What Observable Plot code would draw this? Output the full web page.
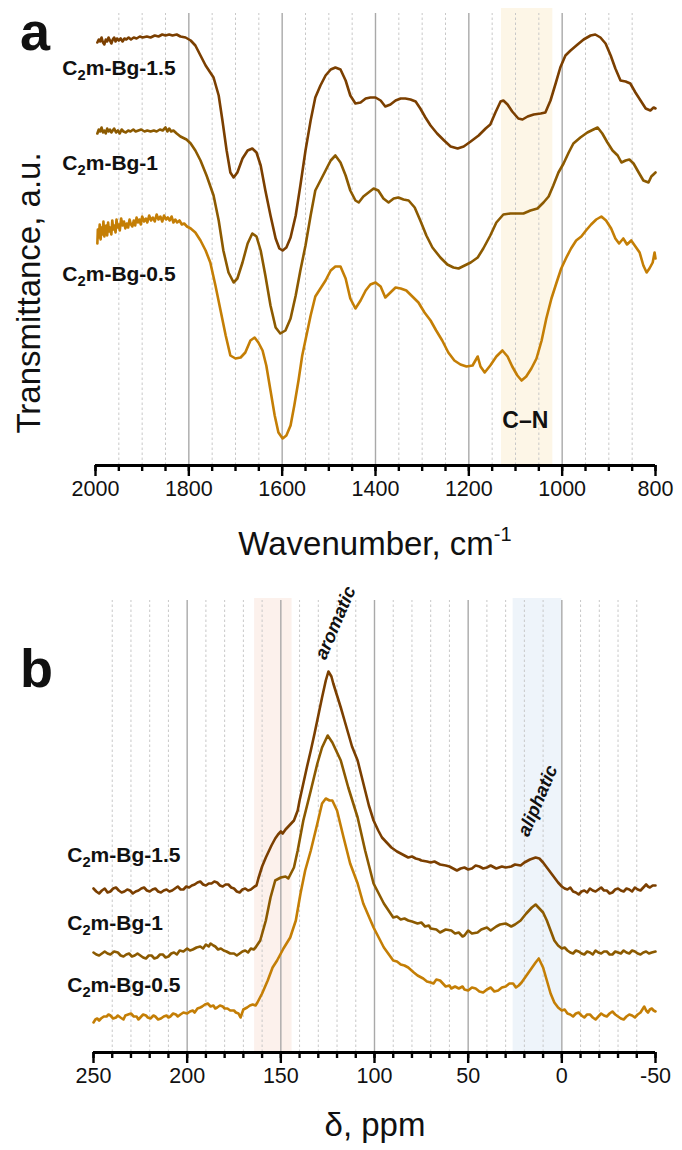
<!DOCTYPE html>
<html>
<head>
<meta charset="utf-8">
<script src="https://cdn.jsdelivr.net/npm/d3@7"></script>
<script src="https://cdn.jsdelivr.net/npm/@observablehq/plot@0.6"></script>
<style>
  html, body { margin: 0; padding: 0; background: #fff; }
  #fig { position: relative; width: 682px; height: 1150px; font-family: "Liberation Sans", Arial, sans-serif; color: #111; }
  #fig svg { display: block; }
  .ov { position: absolute; line-height: 1; white-space: nowrap; }
  .letter { font-weight: bold; font-size: 54px; left: 20px; }
  .title { font-size: 33px; }
  .title sup { font-size: 20px; vertical-align: 0; position: relative; top: -14px; }
</style>
</head>
<body>
<div id="fig">
  <div id="pa"></div>
  <div id="pb"></div>
  <div class="ov letter" style="top:4px">a</div>
  <div class="ov letter" style="top:641px">b</div>
  <div class="ov title" style="left:28px;top:293px;transform:translate(-50%,-50%) rotate(-90deg)">Transmittance, a.u.</div>
  <div class="ov title" style="left:375px;top:527px;transform:translateX(-50%)">Wavenumber, cm<sup>-1</sup></div>
  <div class="ov title" style="left:375px;top:1108px;transform:translateX(-50%)">δ, ppm</div>
</div>
<script>
// ---------- data ----------
const samples = ["C2m-Bg-1.5", "C2m-Bg-1", "C2m-Bg-0.5"];
const sampleColors = ["#7b3f00", "#8c5a00", "#c47e05"];

// FTIR: [wavenumber (cm-1), transmittance (a.u., offset)]
const ftir15 = [[1996,423],[1993,426],[1990,424],[1987,428],[1984,423],[1981,421],[1978,426],[1975,424],[1972,428],[1969,425],[1966,422],[1963,426],[1960,428],[1957,424],[1954,427],[1950,425],[1946,427],[1942,424],[1938,427],[1934,426],[1929,428],[1924,426],[1918,428],[1912,427],[1905,429],[1899,428],[1890,429],[1882,428],[1873,430],[1865,429],[1857,431],[1850,430],[1842,431],[1835,430],[1826,431],[1818,429],[1807,428],[1796,425],[1786,420],[1775,410],[1764,400],[1747,388],[1736,370],[1728,345],[1719,315],[1711,293],[1704,288],[1696,293],[1685,307],[1674,315],[1664,317],[1655,313],[1646,300],[1636,275],[1625,250],[1614,227],[1606,217],[1599,215],[1591,218],[1582,228],[1571,250],[1561,280],[1550,315],[1539,345],[1529,368],[1518,380],[1507,390],[1496,396],[1486,398],[1475,396],[1464,385],[1454,370],[1443,362],[1432,363],[1421,367],[1411,368],[1400,368],[1389,365],[1379,359],[1368,361],[1357,365],[1346,367],[1336,367],[1325,366],[1314,364],[1304,357],[1293,348],[1282,340],[1268,332],[1253,325],[1239,319],[1224,317],[1211,319],[1196,324],[1179,330],[1164,337],[1154,341],[1143,353],[1132,364],[1126,365],[1117,361],[1107,354],[1094,347],[1085,346],[1074,349],[1061,351],[1046,352],[1036,353],[1025,365],[1014,382],[1004,398],[993,410],[982,415],[967,421],[954,426],[939,430],[929,431],[918,428],[907,422],[896,410],[886,397],[875,385],[864,384],[854,382],[843,373],[832,365],[821,357],[811,355],[804,358],[800,357]];
const ftir10 = [[1996,332],[1993,336],[1990,334],[1987,338],[1984,333],[1981,335],[1978,332],[1975,337],[1972,334],[1969,336],[1966,333],[1963,335],[1960,337],[1956,333],[1952,335],[1948,332],[1944,336],[1940,334],[1935,333],[1930,335],[1925,334],[1919,336],[1914,334],[1908,335],[1902,336],[1895,334],[1889,335],[1882,334],[1875,335],[1869,334],[1862,336],[1856,335],[1850,338],[1846,334],[1842,337],[1838,334],[1833,335],[1826,332],[1818,329],[1805,326],[1796,322],[1786,315],[1775,305],[1762,290],[1747,270],[1736,245],[1726,215],[1715,193],[1704,183],[1696,187],[1685,203],[1674,222],[1664,232],[1655,229],[1646,215],[1636,190],[1625,160],[1614,138],[1604,132],[1593,135],[1582,147],[1571,170],[1561,195],[1550,220],[1539,250],[1529,275],[1518,285],[1507,295],[1496,305],[1486,310],[1475,303],[1464,290],[1454,275],[1443,265],[1436,263],[1426,269],[1415,273],[1404,277],[1394,275],[1383,267],[1372,263],[1361,267],[1351,268],[1340,266],[1329,265],[1316,258],[1304,245],[1291,230],[1278,218],[1261,208],[1246,201],[1233,198],[1222,197],[1209,200],[1196,203],[1181,208],[1169,217],[1154,230],[1141,243],[1126,251],[1111,252],[1096,252],[1083,252],[1068,255],[1053,257],[1040,263],[1029,269],[1019,280],[1008,293],[997,302],[986,313],[976,322],[961,328],[946,333],[933,336],[924,338],[914,332],[903,323],[892,315],[881,310],[873,303],[864,305],[856,306],[847,302],[836,293],[826,285],[815,283],[809,289],[800,293]];
const ftir05 = [[1996,222],[1995,236],[1993,228],[1991,241],[1989,226],[1987,238],[1985,231],[1983,244],[1981,229],[1979,236],[1977,240],[1975,230],[1973,243],[1971,234],[1969,238],[1966,231],[1964,245],[1962,236],[1960,240],[1957,233],[1955,246],[1953,238],[1950,241],[1948,235],[1945,247],[1942,240],[1939,244],[1936,237],[1933,242],[1930,238],[1927,246],[1924,241],[1921,239],[1918,245],[1915,240],[1912,248],[1909,243],[1906,246],[1903,241],[1900,249],[1896,244],[1892,247],[1889,243],[1885,250],[1881,245],[1877,248],[1873,244],[1869,251],[1865,246],[1861,249],[1857,244],[1853,250],[1849,246],[1845,248],[1841,245],[1837,249],[1833,243],[1829,246],[1825,243],[1820,245],[1815,241],[1810,242],[1804,239],[1796,237],[1786,233],[1775,225],[1764,215],[1754,203],[1743,180],[1732,155],[1721,130],[1711,110],[1700,107],[1689,108],[1679,113],[1668,125],[1659,128],[1651,123],[1642,115],[1634,100],[1625,75],[1616,50],[1608,33],[1599,27],[1591,30],[1582,40],[1574,60],[1565,85],[1557,110],[1548,130],[1539,150],[1529,169],[1518,177],[1507,185],[1496,195],[1486,199],[1475,199],[1464,187],[1454,167],[1443,157],[1432,165],[1421,175],[1411,181],[1400,183],[1389,179],[1379,168],[1368,173],[1357,178],[1346,177],[1334,175],[1321,169],[1308,163],[1295,153],[1282,145],[1270,135],[1257,125],[1244,113],[1231,105],[1218,101],[1205,99],[1192,100],[1181,109],[1175,99],[1166,93],[1154,100],[1141,109],[1128,115],[1117,109],[1107,99],[1096,90],[1087,85],[1077,89],[1066,97],[1055,107],[1044,125],[1034,147],[1023,167],[1012,183],[1002,197],[991,208],[981,217],[970,225],[959,229],[949,235],[938,241],[927,246],[916,249],[906,245],[895,237],[886,227],[878,222],[869,227],[861,221],[852,225],[843,219],[834,213],[826,200],[819,193],[813,197],[806,203],[802,213],[800,207]];

// 13C NMR: [chemical shift (ppm), intensity (a.u., offset)]
const nmr15 = [[250,164],[248.5,161],[247,159],[245.5,162],[244,164],[242.5,160],[241,161],[239.5,164],[238,165],[236.5,162],[235,160],[233.5,161],[232,163],[230.5,162],[229,159],[227.5,161],[226,162],[224.5,164],[223,165],[221.5,162],[220,161],[218.5,163],[217,164],[215.5,161],[214,160],[212.5,162],[211,163],[209.5,161],[208,162],[206.5,164],[205,166],[203.5,163],[202,163],[200.5,166],[199,165],[197.5,167],[196,168],[194.5,170],[193,171],[191.5,168],[190,167],[188.5,169],[187,169],[185.5,171],[184,170],[182.5,167],[181,166],[179.5,168],[178,168],[176.5,165],[175,164],[173.5,161],[172,160],[170.5,163],[169,164],[167.5,162],[166,163],[164,166],[163,167],[162,174],[160,186],[158,195],[157,199],[155,207],[153,214],[151.5,218],[150,221],[149,219],[147.5,223],[146,226],[144.5,229],[143,232],[141,242],[140,252],[138,269],[136,286],[134,302],[132,319],[130,337],[128,355],[126,372],[124.6,381],[123,376],[122,369],[120,357],[118,345],[116,332],[114,319],[112,306],[109,292],[107,277],[105,262],[103,247],[100.5,232],[98,222],[96,215],[93,209],[91,205],[88,201],[86,199],[84,197],[82,195],[80,196],[78,194],[76,193],[75,192],[72,191],[70,190],[68,191],[65,188],[62,187],[60,186],[58,184],[56,182],[54,184],[52,185],[50,183],[48,184],[46,187],[44,186],[42,184],[40,185],[38,187],[35,184],[32,186],[30,185],[27,186],[25,188],[22,187],[20,190],[17,193],[14,195],[12,194],[10,190],[8,185],[6,180],[4,175],[2,170],[0,166],[-1.5,164],[-3,163],[-4.5,165],[-6,161],[-7.5,160],[-9,158],[-10.5,161],[-12,162],[-13.5,160],[-15,164],[-16.5,162],[-18,161],[-19.5,163],[-21,165],[-22.5,162],[-24,162],[-25.5,159],[-27,160],[-28.5,163],[-30,164],[-31.5,162],[-33,161],[-34.5,164],[-36,163],[-37.5,161],[-39,165],[-40.5,163],[-42,162],[-43.5,165],[-45,168],[-46,166],[-47,165],[-48.5,167],[-50,167]];
const nmr10 = [[250,100],[248.5,98],[247,97],[245.5,99],[244,101],[242.5,99],[241,98],[239,101],[237,100],[235.5,97],[234,96],[232.5,98],[231,99],[229.5,96],[228,97],[226.5,99],[225,97],[223.5,95],[222,94],[220.5,97],[219,97],[217.5,94],[216,95],[214.5,98],[213,98],[211.5,95],[210,96],[208.5,99],[207,100],[205.5,98],[204,102],[202,101],[200,104],[198.5,102],[197,103],[195,105],[193,106],[191.5,104],[190,108],[188.5,106],[187.5,109],[186,107],[185,106],[183.5,103],[182,104],[180.5,102],[179,101],[177,99],[175,99],[173.5,97],[172,99],[170.5,101],[169,102],[167.5,100],[166,104],[164.5,103],[163.5,105],[161,112],[158,132],[155.5,155],[153,172],[150,175],[147.5,176],[146,174],[143,185],[141,202],[138,232],[134,262],[130.5,289],[128,305],[125,317],[122.5,310],[120,300],[118,292],[114,265],[109,235],[105,202],[100.5,169],[95,149],[90,135],[88,136],[86,133],[84,134],[82,132],[80,131],[77,129],[75,130],[73,126],[71,127],[70,124],[67,123],[65,120],[62,123],[59,122],[57,119],[55,120],[53,116],[52,117],[50,122],[48,119],[45,120],[43,123],[40,125],[38,122],[35,126],[33,128],[30,129],[27,126],[25,128],[22,132],[19,139],[16,145],[14,148],[12,144],[10,140],[8,132],[6,122],[4,112],[2,107],[0,104],[-1.5,105],[-3,102],[-4.5,100],[-6,99],[-7.5,102],[-9,101],[-10.5,99],[-12,98],[-13.5,101],[-15,100],[-16.5,98],[-18,102],[-19.5,100],[-21,99],[-22.5,101],[-24,101],[-25.5,98],[-27,98],[-28.5,101],[-30,100],[-31.5,99],[-33,102],[-34.5,100],[-36,99],[-37.5,102],[-39,101],[-40.5,99],[-42,98],[-43.5,100],[-45,101],[-46.5,99],[-48,100],[-50,101]];
const nmr05 = [[250,30],[249,33],[248,34],[247,32],[246,34],[244.5,36],[243,36],[242,38],[241,37],[239.5,34],[238,35],[237,37],[235.6,35],[234,33],[233,37],[231.5,38],[230,39],[228.5,36],[227,36],[226,33],[225,35],[223.5,38],[222,37],[221,35],[219.6,34],[218,37],[217,36],[215.5,33],[214,34],[212.5,36],[211,37],[210,35],[209,36],[207.5,39],[206,38],[205,36],[203.6,38],[202,40],[200,39],[198.5,41],[197,42],[196,40],[194.5,44],[193,45],[192,46],[190.5,48],[189,49],[187.5,46],[186,47],[185,44],[184,45],[182.5,47],[181,46],[180,44],[178.5,44],[177,42],[175,42],[174,40],[172.6,39],[171.5,35],[170,43],[168,45],[166.5,47],[165,48],[163.5,47],[162.5,50],[160,59],[157,72],[154.4,85],[152,92],[148.6,104],[145,115],[142,132],[139.5,159],[137,182],[134,202],[130.5,229],[128,249],[126,254],[124,252],[122.5,252],[120,242],[116.5,215],[113,189],[109,169],[106,149],[100.5,125],[95,105],[90,92],[88,91],[86,88],[84,87],[82,85],[79,80],[77,77],[74,74],[72,71],[70,70],[68.5,69],[67,73],[65,72],[63,68],[62,66],[60,67],[59,64],[57,66],[55,64],[53,66],[52,63],[50,62],[48,65],[46,64],[44,61],[42,60],[40,63],[38,65],[36,61],[34,62],[32,65],[30,66],[28,69],[26,69],[24.5,65],[23,67],[21.5,70],[20,74],[17,82],[14,90],[12.3,94],[10,85],[8,72],[6,59],[4,50],[2,45],[0,42],[-1.5,43],[-3,39],[-4.5,38],[-6,36],[-7.5,39],[-9,40],[-10.5,37],[-12,35],[-13.5,38],[-15,38],[-16.5,35],[-18,33],[-19.5,36],[-21,39],[-22.5,37],[-24,36],[-25.5,39],[-27,41],[-28.5,38],[-30,36],[-31.5,34],[-33,33],[-34.5,36],[-36,38],[-37.5,37],[-39,35],[-40.5,38],[-42,40],[-43,43],[-44,46],[-45,42],[-46,40],[-47,43],[-48,44],[-49,42],[-50,41]];

// highlighted regions
const cnBand = [{from: 1130, to: 1020}];
const nmrBands = [{from: 164, to: 144, fill: "#fcf1ec"}, {from: 26, to: 0, fill: "#eef4fa"}];

// ticks
const wnMinor = d3.range(800, 2001, 50);
const wnMajor = d3.range(800, 2001, 200);
const ppmMinor = d3.range(-50, 251, 10);
const ppmMajor = d3.range(-50, 251, 50);

// annotations (data coordinates)
const ftirLabels = [
  {x: 2071, y: 397, t: "C2m-Bg-1.5"},
  {x: 2071, y: 302, t: "C2m-Bg-1"},
  {x: 2071, y: 191, t: "C2m-Bg-0.5"}
];
const nmrLabels = [
  {x: 264, y: 197, t: "C2m-Bg-1.5"},
  {x: 264, y: 129, t: "C2m-Bg-1"},
  {x: 264, y: 67, t: "C2m-Bg-0.5"}
];

// ---------- build ----------
const toRows = (arrs) => arrs.flatMap((a, i) => a.map(([x, y]) => ({key: samples[i], x, y})));
const ftirRows = toRows([ftir15, ftir10, ftir05]);
const nmrRows = toRows([nmr15, nmr10, nmr05]);

const FONT = "Liberation Sans, Arial, sans-serif";

function subscript(svg) {
  d3.select(svg).selectAll("text").each(function () {
    const m = /^C2(m-Bg-.*)$/.exec(this.textContent);
    if (!m) return;
    const el = d3.select(this);
    el.text(null);
    el.append("tspan").text("C");
    el.append("tspan").attr("dy", 5).attr("font-size", "0.7em").text("2");
    el.append("tspan").attr("dy", -5).text(m[1]);
  });
  return svg;
}

const plotA = Plot.plot({
  width: 682, height: 575,
  marginLeft: 95, marginRight: 27, marginTop: 8, marginBottom: 110,
  x: {domain: [2000, 800]},
  y: {domain: [0, 457], axis: null},
  color: {domain: samples, range: sampleColors},
  style: {fontFamily: FONT, background: "white", overflow: "visible"},
  marks: [
    Plot.rect(cnBand, {x1: "from", x2: "to", y1: 0, y2: 457, fill: "#fdf6e7"}),
    Plot.ruleX(wnMinor.filter(d => d % 200 !== 0), {y1: 0, y2: 452, stroke: "#c8c8c8", strokeWidth: 1, strokeDasharray: "2.5,2.5"}),
    Plot.ruleX(wnMajor.filter(d => d > 800 && d < 2000), {y1: 0, y2: 452, stroke: "#a9a9a9", strokeWidth: 1.4}),
    Plot.line(ftirRows, {x: "x", y: "y", z: "key", stroke: "key", strokeWidth: 2.6, strokeLinejoin: "round"}),
    Plot.text(ftirLabels, {x: "x", y: "y", text: "t", textAnchor: "start", fontWeight: "bold", fontSize: 21, fill: "#111"}),
    Plot.text([{x: 1079, y: 45, t: "C–N"}], {x: "x", y: "y", text: "t", fontWeight: "bold", fontSize: 23, fill: "#111"}),
    Plot.axisX({ticks: wnMinor, tickSize: 6, tickFormat: () => "", strokeWidth: 2.4, stroke: "#000", label: null}),
    Plot.axisX({ticks: wnMajor, tickSize: 11, tickPadding: 4, tickFormat: d => String(d), fontSize: 21.5, strokeWidth: 2.4, stroke: "#000", fill: "#111", label: null}),
    Plot.ruleY([0], {stroke: "#000", strokeWidth: 3})
  ]
});

const plotB = Plot.plot({
  width: 682, height: 575,
  marginLeft: 93, marginRight: 27, marginTop: 23, marginBottom: 98,
  x: {domain: [250, -50]},
  y: {domain: [0, 454], axis: null},
  color: {domain: samples, range: sampleColors},
  style: {fontFamily: FONT, background: "white", overflow: "visible"},
  marks: [
    Plot.rect(nmrBands, {x1: "from", x2: "to", y1: 0, y2: 454, fill: "fill"}),
    Plot.ruleX(ppmMinor.filter(d => d % 50 !== 0), {y1: 0, y2: 452, stroke: "#c8c8c8", strokeWidth: 1, strokeDasharray: "2.5,2.5"}),
    Plot.ruleX(ppmMajor.filter(d => d > -50 && d < 250), {y1: 0, y2: 452, stroke: "#a9a9a9", strokeWidth: 1.4}),
    Plot.line(nmrRows, {x: "x", y: "y", z: "key", stroke: "key", strokeWidth: 2.6, strokeLinejoin: "round"}),
    Plot.text(nmrLabels, {x: "x", y: "y", text: "t", textAnchor: "start", fontWeight: "bold", fontSize: 21, fill: "#111"}),
    Plot.text([{x: 126, y: 392, t: "aromatic"}, {x: 17.8, y: 215, t: "aliphatic"}],
      {x: "x", y: "y", text: "t", rotate: -67, textAnchor: "start", lineAnchor: "bottom", fontStyle: "italic", fontWeight: "bold", fontSize: 18.5, fill: "#111"}),
    Plot.axisX({ticks: ppmMinor, tickSize: 6, tickFormat: () => "", strokeWidth: 2.4, stroke: "#000", label: null}),
    Plot.axisX({ticks: ppmMajor, tickSize: 11, tickPadding: 4, tickFormat: d => String(d), fontSize: 21.5, strokeWidth: 2.4, stroke: "#000", fill: "#111", label: null}),
    Plot.ruleY([0], {stroke: "#000", strokeWidth: 3})
  ]
});

document.getElementById("pa").appendChild(subscript(plotA));
document.getElementById("pb").appendChild(subscript(plotB));
</script>
</body>
</html>
